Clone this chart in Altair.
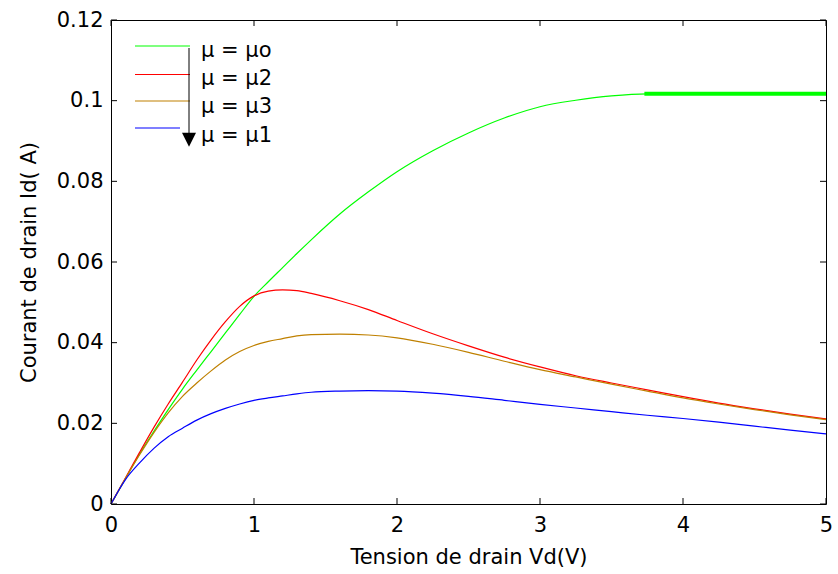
import altair as alt
import pandas as pd

# ---- data ----
VD = [0, 0.1, 0.2, 0.3, 0.4, 0.5, 0.6, 0.7, 0.8, 0.9, 1.0, 1.1, 1.2, 1.3, 1.4,
      1.6, 1.8, 2.0, 2.25, 2.5, 2.75, 3.0, 3.25, 3.5, 3.75, 4.0, 4.25, 4.5, 4.75, 5.0]

ID_MU0 = [0, 0.0062, 0.0124, 0.0180, 0.0234, 0.0285, 0.0332, 0.0378, 0.0424, 0.0470,
          0.0515, 0.0551, 0.0586, 0.0621, 0.0655, 0.0719, 0.0774, 0.0824, 0.0876, 0.0920,
          0.0957, 0.0985, 0.1001, 0.1012, 0.1017, 0.1017, 0.1017, 0.1017, 0.1017, 0.1017]
ID_MU2 = [0, 0.0064, 0.0128, 0.0190, 0.0248, 0.0302, 0.0357, 0.0407, 0.0452, 0.0490,
          0.0516, 0.0528, 0.0531, 0.0529, 0.0522, 0.0504, 0.0482, 0.0455, 0.0422, 0.0392,
          0.0364, 0.0340, 0.0318, 0.0300, 0.0283, 0.0266, 0.0250, 0.0236, 0.0223, 0.0211]
ID_MU3 = [0, 0.0063, 0.0122, 0.0177, 0.0226, 0.0267, 0.0300, 0.0330, 0.0357, 0.0378,
          0.0393, 0.0403, 0.0410, 0.0417, 0.0420, 0.0421, 0.0419, 0.0412, 0.0396, 0.0376,
          0.0354, 0.0333, 0.0315, 0.0297, 0.0280, 0.0263, 0.0248, 0.0234, 0.0221, 0.0209]
ID_MU1 = [0, 0.0060, 0.0102, 0.0138, 0.0167, 0.0188, 0.0208, 0.0224, 0.0237, 0.0248,
          0.0257, 0.0263, 0.0268, 0.0273, 0.0277, 0.0280, 0.0281, 0.0280, 0.0275, 0.0267,
          0.0257, 0.0247, 0.0238, 0.0229, 0.0220, 0.0212, 0.0203, 0.0193, 0.0183, 0.0174]

FLAT_VD = [3.73, 5.0]
FLAT_ID = [0.1017, 0.1017]

SERIES = ["μ = μo", "μ = μ2", "μ = μ3", "μ = μ1"]
COLORS = ["#00ff00", "#ff0000", "#bf8000", "#0000ff"]

X_TICKS = [0, 1, 2, 3, 4, 5]
Y_TICKS = [0, 0.02, 0.04, 0.06, 0.08, 0.1, 0.12]

# ---- build tables ----
rows = []
for name, ys in zip(SERIES, [ID_MU0, ID_MU2, ID_MU3, ID_MU1]):
    for i, (x, y) in enumerate(zip(VD, ys)):
        rows.append({"vd": x, "id": y, "serie": name, "ord": i})
df = pd.DataFrame(rows)
flat = pd.DataFrame({"vd": FLAT_VD, "id": FLAT_ID})
xt = pd.DataFrame({"vd": X_TICKS})
yt = pd.DataFrame({"id": Y_TICKS})
one = pd.DataFrame({"a": [0]})

W, H = 715, 484
FONT = "DejaVu Sans"
FS = 21

xscale = alt.Scale(domain=[0, 5], nice=False, zero=False)
yscale = alt.Scale(domain=[0, 0.12], nice=False, zero=False)

xaxis = alt.Axis(values=X_TICKS, labelExpr="format(datum.value, '.0f')",
                 title="Tension de drain Vd(V)",
                 grid=False, ticks=False, domain=False, labelPadding=10,
                 titlePadding=11, labelFont=FONT, titleFont=FONT,
                 labelFontSize=FS, titleFontSize=FS, labelColor="black",
                 titleColor="black", titleFontWeight="normal", labelFlush=False)
yaxis = alt.Axis(values=Y_TICKS, labelExpr="format(datum.value, '.2~f')",
                 title="Courant de drain Id( A)",
                 grid=False, ticks=False, domain=False, labelPadding=8,
                 titlePadding=17, labelFont=FONT, titleFont=FONT,
                 labelFontSize=FS, titleFontSize=FS, labelColor="black",
                 titleColor="black", titleFontWeight="normal", labelFlush=False,
                 labelOverlap=False)

X = alt.X("vd:Q", scale=xscale, axis=xaxis, title="Tension de drain Vd(V)")
Y = alt.Y("id:Q", scale=yscale, axis=yaxis, title="Courant de drain Id( A)")

lines = alt.Chart(df).mark_line(strokeWidth=1.2, interpolate="monotone").encode(
    x=X, y=Y,
    color=alt.Color("serie:N", scale=alt.Scale(domain=SERIES, range=COLORS), legend=None),
    detail="serie:N",
    order="ord:Q",
)

thick = alt.Chart(flat).mark_line(strokeWidth=4, color="#00ff00").encode(x=X, y=Y)

# inside ticks (MATLAB style)
tb = alt.Chart(xt).mark_rule(color="black", strokeWidth=1).encode(
    x=X, y=alt.value(H), y2=alt.value(H - 6))
tt = alt.Chart(xt).mark_rule(color="black", strokeWidth=1).encode(
    x=X, y=alt.value(0), y2=alt.value(6))
tl = alt.Chart(yt).mark_rule(color="black", strokeWidth=1).encode(
    y=Y, x=alt.value(0), x2=alt.value(6))
tr = alt.Chart(yt).mark_rule(color="black", strokeWidth=1).encode(
    y=Y, x=alt.value(W), x2=alt.value(W - 6))

# manual legend
LINE_Y = [26, 54.5, 81, 108]
TEXT_Y = [36.5, 65, 93.3, 121.7]
LINE_X2 = [79, 79, 79, 69]
legend_layers = []
for name, col, ly, ty, lx2 in zip(SERIES, COLORS, LINE_Y, TEXT_Y, LINE_X2):
    legend_layers.append(
        alt.Chart(one).mark_rule(color=col, strokeWidth=1.2).encode(
            x=alt.value(24), x2=alt.value(lx2), y=alt.value(ly)))
    legend_layers.append(
        alt.Chart(one).mark_text(text=name, font=FONT, fontSize=FS, color="black",
                                 align="left", baseline="alphabetic").encode(
            x=alt.value(90), y=alt.value(ty)))

arrow_line = alt.Chart(one).mark_rule(color="black", strokeWidth=1).encode(
    x=alt.value(78), y=alt.value(28), y2=alt.value(118))
arrow_head = alt.Chart(one).mark_point(shape="M-1,-1L1,-1L0,1Z", filled=True,
                                       color="black", size=196, opacity=1).encode(
    x=alt.value(78), y=alt.value(119.7))

chart = alt.layer(
    lines, thick, tb, tt, tl, tr, *legend_layers, arrow_line, arrow_head
).properties(
    width=W, height=H,
    autosize=alt.AutoSizeParams(type="none"),
    padding={"left": 111, "top": 20, "right": 12, "bottom": 70},
    background="white",
).configure_view(stroke="black", strokeWidth=1)

chart.save("out.html", embed_options={"renderer": "svg", "actions": False})
